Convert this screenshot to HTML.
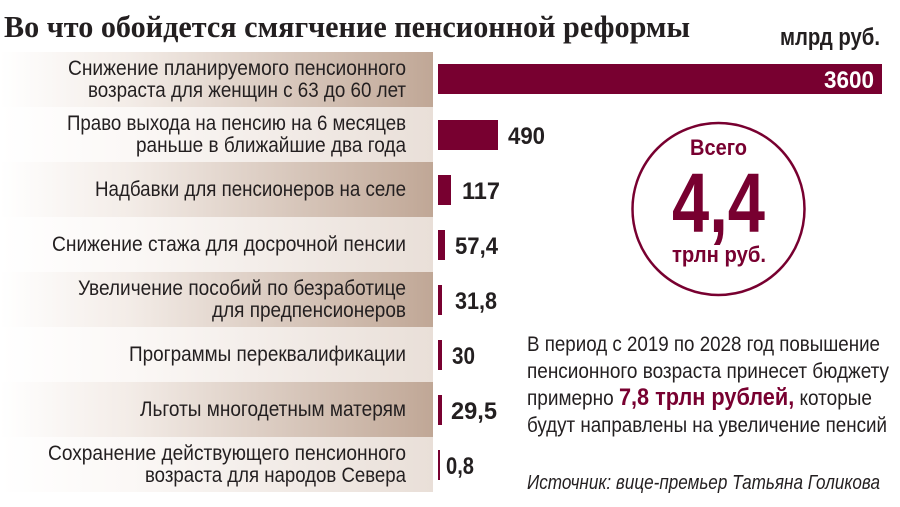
<!DOCTYPE html>
<html><head><meta charset="utf-8"><style>
html,body{margin:0;padding:0;background:#fff;}
svg{display:block;}
.l{font-family:"Liberation Sans Narrow","Liberation Sans",sans-serif;font-size:21px;fill:#231f20;}
.v{font-family:"Liberation Sans Narrow","Liberation Sans",sans-serif;font-size:24px;font-weight:bold;fill:#231f20;}
</style></head><body>
<svg width="900" height="507" viewBox="0 0 900 507" xmlns="http://www.w3.org/2000/svg">
<defs>
<linearGradient id="gd" x1="0" x2="1" y1="0" y2="0"><stop offset="0" stop-color="#fff"/><stop offset="0.3" stop-color="#f3ece7"/><stop offset="1" stop-color="#c0a796"/></linearGradient>
<linearGradient id="gl" x1="0" x2="1" y1="0" y2="0"><stop offset="0" stop-color="#fff"/><stop offset="0.3" stop-color="#fbf8f6"/><stop offset="1" stop-color="#e9dfd8"/></linearGradient>
</defs>
<text x="4" y="37" font-family="Liberation Serif,serif" font-weight="bold" font-size="31" fill="#231f20" textLength="686" lengthAdjust="spacingAndGlyphs">Во что обойдется смягчение пенсионной реформы</text>
<text x="880" y="45" text-anchor="end" class="v" font-size="22" textLength="100" lengthAdjust="spacingAndGlyphs">млрд руб.</text>
<rect x="0" y="52" width="433" height="55" fill="url(#gd)"/>
<rect x="0" y="107" width="433" height="55" fill="url(#gl)"/>
<rect x="0" y="162" width="433" height="55" fill="url(#gd)"/>
<rect x="0" y="217" width="433" height="55" fill="url(#gl)"/>
<rect x="0" y="272" width="433" height="55" fill="url(#gd)"/>
<rect x="0" y="327" width="433" height="55" fill="url(#gl)"/>
<rect x="0" y="382" width="433" height="55" fill="url(#gd)"/>
<rect x="0" y="437" width="433" height="55" fill="url(#gl)"/>
<g class="l" text-anchor="end">
<text x="406" y="75" textLength="338" lengthAdjust="spacingAndGlyphs">Снижение планируемого пенсионного</text>
<text x="406" y="97" textLength="318" lengthAdjust="spacingAndGlyphs">возраста для женщин с 63 до 60 лет</text>
<text x="406" y="130" textLength="339" lengthAdjust="spacingAndGlyphs">Право выхода на пенсию на 6 месяцев</text>
<text x="406" y="152" textLength="270" lengthAdjust="spacingAndGlyphs">раньше в ближайшие два года</text>
<text x="406" y="196" textLength="311" lengthAdjust="spacingAndGlyphs">Надбавки для пенсионеров на селе</text>
<text x="406" y="251" textLength="354" lengthAdjust="spacingAndGlyphs">Снижение стажа для досрочной пенсии</text>
<text x="406" y="295" textLength="328" lengthAdjust="spacingAndGlyphs">Увеличение пособий по безработице</text>
<text x="406" y="317" textLength="194" lengthAdjust="spacingAndGlyphs">для предпенсионеров</text>
<text x="406" y="361" textLength="277" lengthAdjust="spacingAndGlyphs">Программы переквалификации</text>
<text x="406" y="416" textLength="266" lengthAdjust="spacingAndGlyphs">Льготы многодетным матерям</text>
<text x="406" y="460" textLength="358" lengthAdjust="spacingAndGlyphs">Сохранение действующего пенсионного</text>
<text x="406" y="482" textLength="261" lengthAdjust="spacingAndGlyphs">возраста для народов Севера</text>
</g>
<g fill="#780030">
<rect x="438" y="64" width="444" height="30"/>
<rect x="438" y="120" width="60" height="30"/>
<rect x="438" y="175" width="13" height="30"/>
<rect x="438" y="230" width="7" height="30"/>
<rect x="438" y="285" width="4" height="30"/>
<rect x="438" y="340" width="4" height="30"/>
<rect x="438" y="395" width="4" height="30"/>
<rect x="438" y="450" width="2" height="30"/>
</g>
<text x="874" y="88" text-anchor="end" class="v" style="fill:#fff" textLength="50" lengthAdjust="spacingAndGlyphs">3600</text>
<g class="v">
<text x="508" y="144" textLength="37" lengthAdjust="spacingAndGlyphs">490</text>
<text x="462" y="199" textLength="38" lengthAdjust="spacingAndGlyphs">117</text>
<text x="455" y="254" textLength="43" lengthAdjust="spacingAndGlyphs">57,4</text>
<text x="455" y="309" textLength="42" lengthAdjust="spacingAndGlyphs">31,8</text>
<text x="452" y="364" textLength="23" lengthAdjust="spacingAndGlyphs">30</text>
<text x="451" y="419" textLength="46" lengthAdjust="spacingAndGlyphs">29,5</text>
<text x="446" y="474" textLength="28" lengthAdjust="spacingAndGlyphs">0,8</text>
</g>
<circle cx="718.5" cy="209" r="86" fill="none" stroke="#780030" stroke-width="2.5"/>
<g text-anchor="middle" font-family="Liberation Sans Narrow,Liberation Sans,sans-serif" font-weight="bold" fill="#780030">
<text x="718.5" y="155" font-size="22" textLength="57" lengthAdjust="spacingAndGlyphs">Всего</text>
<text x="718.5" y="232" font-size="84" textLength="93" lengthAdjust="spacingAndGlyphs">4,4</text>
<text x="719" y="262" font-size="22" textLength="94" lengthAdjust="spacingAndGlyphs">трлн руб.</text>
</g>
<g class="l">
<text x="527" y="351" textLength="353" lengthAdjust="spacingAndGlyphs">В период с 2019 по 2028 год повышение</text>
<text x="527" y="378" textLength="362" lengthAdjust="spacingAndGlyphs">пенсионного возраста принесет бюджету</text>
<text x="527" y="405" textLength="345" lengthAdjust="spacingAndGlyphs">примерно <tspan font-weight="bold" font-size="24" fill="#780030">7,8 трлн рублей,</tspan> которые</text>
<text x="527" y="432" textLength="360" lengthAdjust="spacingAndGlyphs">будут направлены на увеличение пенсий</text>
<text x="527" y="489" font-style="italic" font-size="20" textLength="353" lengthAdjust="spacingAndGlyphs">Источник: вице-премьер Татьяна Голикова</text>
</g>
</svg>
</body></html>
